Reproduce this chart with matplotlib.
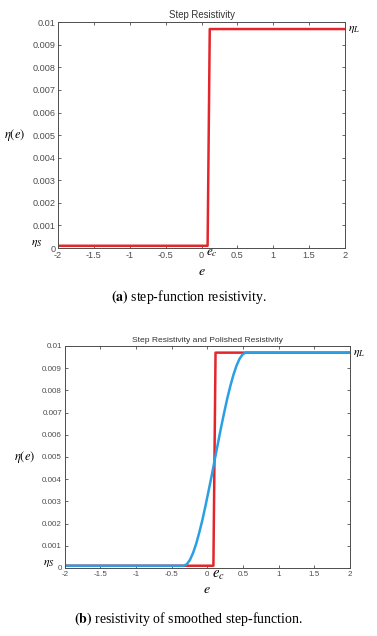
import matplotlib
matplotlib.use("Agg")
import matplotlib.pyplot as plt

plt.rcParams["font.family"] = ["Liberation Sans", "DejaVu Sans"]
plt.rcParams["mathtext.fontset"] = "stix"

# step resistivity
e_step = [-2, 0.085, 0.115, 2]
eta_step = [0.0001, 0.0001, 0.0097, 0.0097]

# smoothed (polished) resistivity
e_smooth = [-2, -0.33, -0.287, -0.243, -0.2, -0.156, -0.113, -0.069, -0.026,
            0.018, 0.062, 0.105, 0.149, 0.192, 0.236, 0.279, 0.323, 0.366,
            0.41, 0.453, 0.497, 0.54, 2]
eta_smooth = [0.0001, 0.0001, 0.00017, 0.00037, 0.00068, 0.0011, 0.0016, 0.00217,
              0.0028, 0.00348, 0.00418, 0.0049, 0.00562, 0.00632, 0.0070, 0.00763,
              0.0082, 0.0087, 0.00912, 0.00943, 0.00963, 0.0097, 0.0097]

xticks = [-2, -1.5, -1, -0.5, 0, 0.5, 1, 1.5, 2]
xticklabels = ["-2", "-1.5", "-1", "-0.5", "0", "0.5", "1", "1.5", "2"]
yticks = [0, 0.001, 0.002, 0.003, 0.004, 0.005, 0.006, 0.007, 0.008, 0.009, 0.01]
yticklabels = ["0", "0.001", "0.002", "0.003", "0.004", "0.005", "0.006",
               "0.007", "0.008", "0.009", "0.01"]

red = "#e3262b"
blue = "#2a9fe3"
grey = "#4d4d4d"


def style_axes(ax, title, fs, ylab_x, etas_x, ec_y, ec_fs):
    ax.set_xlim(-2, 2)
    ax.set_ylim(0, 0.01)
    ax.set_xticks(xticks)
    ax.set_xticklabels(xticklabels)
    ax.set_yticks(yticks)
    ax.set_yticklabels(yticklabels)
    ax.tick_params(direction="in", length=2.5, width=0.6, colors=grey,
                   labelsize=fs, top=True, right=True, pad=2)
    for sp in ax.spines.values():
        sp.set_color(grey)
        sp.set_linewidth(0.7)
    ax.set_title(title, fontsize=fs + 0.3, color="#333333", pad=3)
    ax.text(ylab_x, 0.5, r"$\eta(e)$", transform=ax.transAxes, fontsize=9,
            ha="center", va="center")
    ax.text(etas_x, 0.022, r"$\eta_S$", transform=ax.transAxes, fontsize=8.5,
            ha="right", va="center")
    ax.text(1.01, 0.97, r"$\eta_L$", transform=ax.transAxes, fontsize=8.5,
            ha="left", va="center")
    ax.text(0.515, ec_y, r"$e_c$", transform=ax.transAxes, fontsize=ec_fs,
            ha="left", va="center")


fig = plt.figure(figsize=(3.77, 6.36), dpi=100)

ax1 = fig.add_axes([0.154, 0.61, 0.761, 0.355])
ax1.plot(e_step, eta_step, color=red, lw=1.8)
style_axes(ax1, "Step Resistivity", 6.6, -0.15, -0.055, -0.022, 9.5)
ax1.set_xlabel(r"$e$", fontsize=10, labelpad=3)

ax2 = fig.add_axes([0.172, 0.107, 0.756, 0.349])
ax2.plot(e_step, eta_step, color=red, lw=1.8)
ax2.plot(e_smooth, eta_smooth, color=blue, lw=1.8)
style_axes(ax2, "Step Resistivity and Polished Resistivity", 5.8,
           -0.14, -0.035, -0.03, 10.5)
ax2.set_xlabel(r"$e$", fontsize=10, labelpad=3)

cap_font = ["Liberation Serif", "DejaVu Serif"]
fig.text(0.5, 1 - 297 / 636, r"$\mathbf{(a)}$ step-function resistivity.",
         ha="center", va="center", fontsize=10, family=cap_font)
fig.text(0.5, 1 - 619 / 636, r"$\mathbf{(b)}$ resistivity of smoothed step-function.",
         ha="center", va="center", fontsize=10, family=cap_font)

fig.savefig("out.png", dpi=100)
